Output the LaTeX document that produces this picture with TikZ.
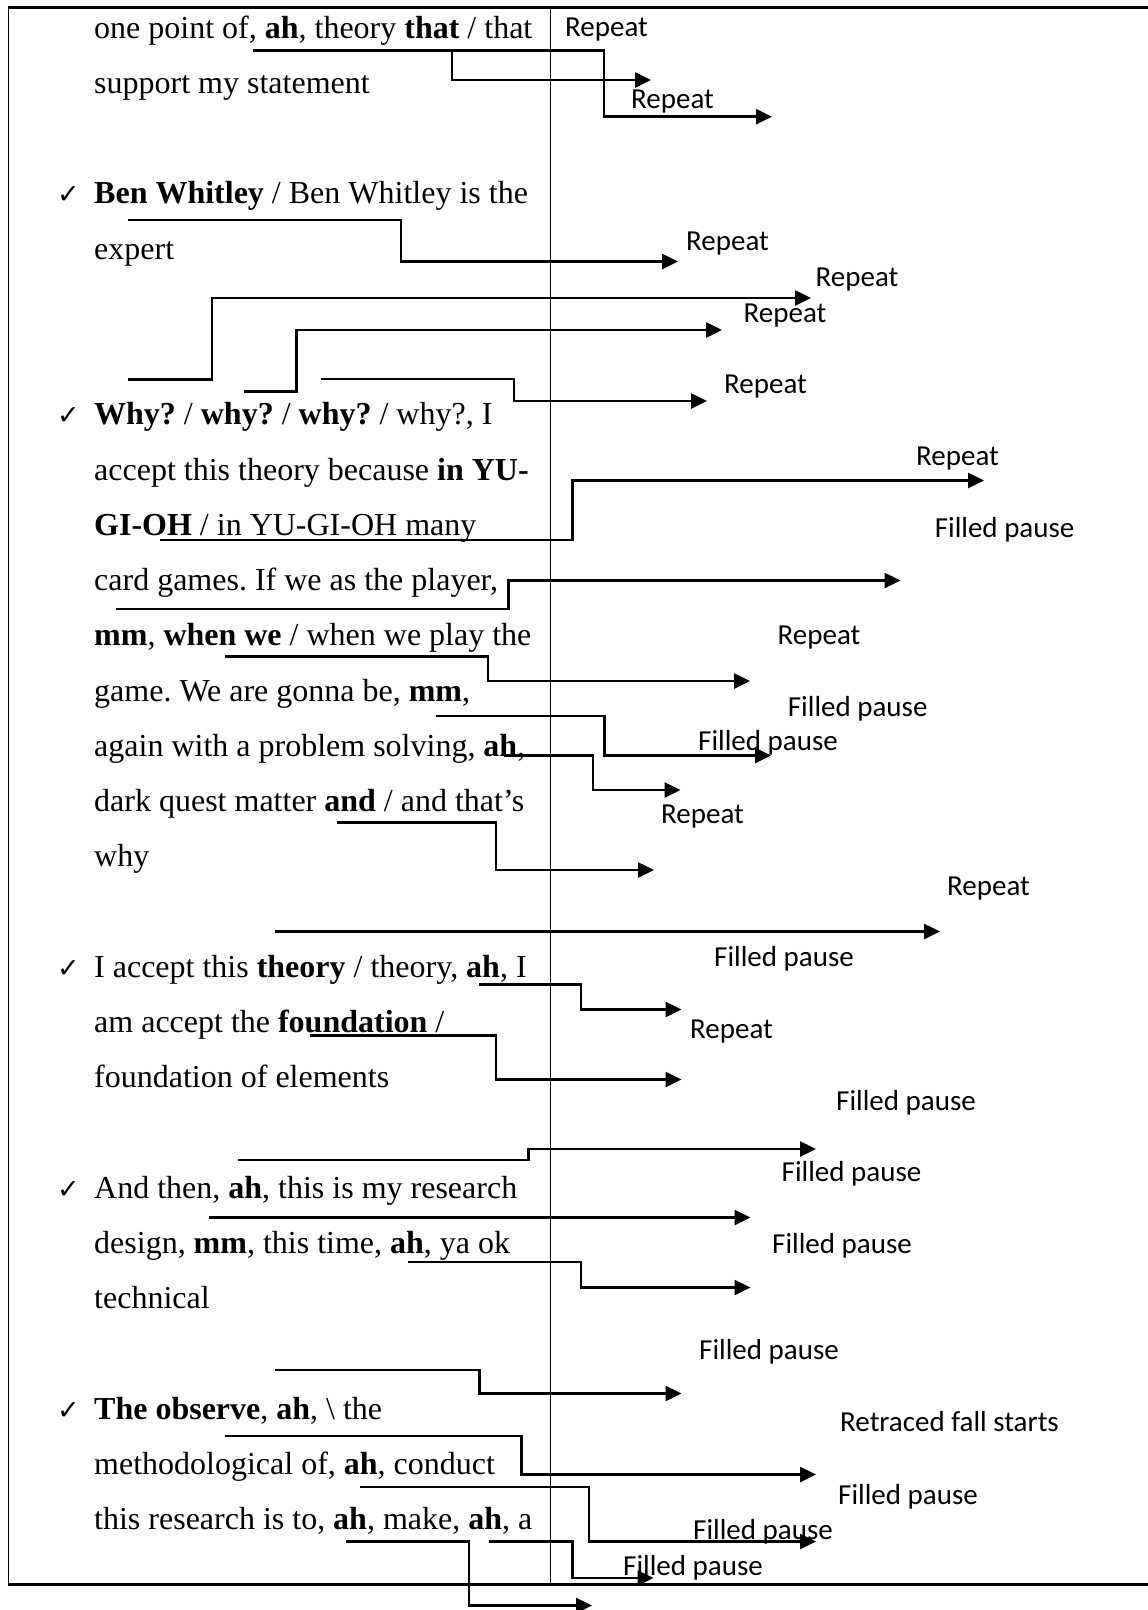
\documentclass[tikz,border=0pt]{standalone}
\usepackage{fontspec}
\setmainfont{Liberation Serif}
\newfontfamily\labelfont{Carlito}
\newfontfamily\tickfont{DejaVu Sans}
\usetikzlibrary{arrows.meta}
\frenchspacing

\begin{document}
\begin{tikzpicture}[x=1pt,y=-1pt,
  body/.style={anchor=base west, inner sep=0pt, font=\fontsize{32}{38}\selectfont},
  tick/.style={anchor=base west, inner sep=0pt, font=\tickfont\fontsize{27}{30}\selectfont},
  tag/.style={anchor=base west, inner sep=0pt, font=\labelfont\fontsize{29}{34}\selectfont},
  conn/.style={line width=2.6pt, line join=miter, -{Triangle[length=16pt,width=15pt]}},
  rule/.style={line width=1.5pt},
  frame/.style={line width=3pt}]
\useasboundingbox (0,0) rectangle (1148,1610);
\fill[white] (0,0) rectangle (1148,1610);

% table frame and column divider
\draw[frame] (8,7) -- (1148,7);
\draw[frame] (8,1584) -- (1148,1584);
\draw[rule] (8.5,7) -- (8.5,1584);
\draw[rule] (550.5,7) -- (550.5,1584);

% transcript text (left column)
\node[body] (t0)  at (94,38)      {one point of, \textbf{ah}, theory \textbf{that} / that};
\node[body] (t1)  at (94,93.25)   {support my statement};
\node[tick] (c3)  at (57,203.75)  {✓};
\node[body] (t3)  at (94,203.75)  {\textbf{Ben Whitley} / Ben Whitley is the};
\node[body] (t4)  at (94,259)     {expert};
\node[tick] (c7)  at (57,424.75)  {✓};
\node[body] (t7)  at (94,424.75)  {\textbf{Why?} / \textbf{why?} / \textbf{why?} / why?, I};
\node[body] (t8)  at (94,480)     {accept this theory because \textbf{in YU-}};
\node[body] (t9)  at (94,535.25)  {\textbf{GI-OH} / in YU-GI-OH many};
\node[body] (t10) at (94,590.5)   {card games. If we as the player,};
\node[body] (t11) at (94,645.75)  {\textbf{mm}, \textbf{when we} / when we play the};
\node[body] (t12) at (94,701)     {game. We are gonna be, \textbf{mm},};
\node[body] (t13) at (94,756.25)  {again with a problem solving, \textbf{ah},};
\node[body] (t14) at (94,811.5)   {dark quest matter \textbf{and} / and that’s};
\node[body] (t15) at (94,866.75)  {why};
\node[tick] (c17) at (57,977.25)  {✓};
\node[body] (t17) at (94,977.25)  {I accept this \textbf{theory} / theory, \textbf{ah}, I};
\node[body] (t18) at (94,1032.5)  {am accept the \textbf{foundation} /};
\node[body] (t19) at (94,1087.75) {foundation of elements};
\node[tick] (c21) at (57,1198.25) {✓};
\node[body] (t21) at (94,1198.25) {And then, \textbf{ah}, this is my research};
\node[body] (t22) at (94,1253.5)  {design, \textbf{mm}, this time, \textbf{ah}, ya ok};
\node[body] (t23) at (94,1308.75) {technical};
\node[tick] (c25) at (57,1419.25) {✓};
\node[body] (t25) at (94,1419.25) {\textbf{The observe}, \textbf{ah}, \textbackslash{} the};
\node[body] (t26) at (94,1474.5)  {methodological of, \textbf{ah}, conduct};
\node[body] (t27) at (94,1529.75) {this research is to, \textbf{ah}, make, \textbf{ah}, a};

% disfluency labels (right column)
\node[tag] (r1)  at (565,36)     {Repeat};
\node[tag] (r2)  at (631,108)    {Repeat};
\node[tag] (r3)  at (686,250)    {Repeat};
\node[tag] (r4)  at (815.5,286)  {Repeat};
\node[tag] (r5)  at (743.5,322)  {Repeat};
\node[tag] (r6)  at (724,393)    {Repeat};
\node[tag] (r7)  at (916,465)    {Repeat};
\node[tag] (r8)  at (934.6,537)  {Filled pause};
\node[tag] (r9)  at (777.5,644)  {Repeat};
\node[tag] (r10) at (787.7,716)  {Filled pause};
\node[tag] (r11) at (698,750.5)  {Filled pause};
\node[tag] (r12) at (661,823)    {Repeat};
\node[tag] (r13) at (947,895)    {Repeat};
\node[tag] (r14) at (714,966)    {Filled pause};
\node[tag] (r15) at (690,1038)   {Repeat};
\node[tag] (r16) at (836,1110)   {Filled pause};
\node[tag] (r17) at (781.5,1181) {Filled pause};
\node[tag] (r18) at (772,1253)   {Filled pause};
\node[tag] (r19) at (699,1359.5) {Filled pause};
\node[tag] (r20) at (840,1431)   {Retraced fall starts};
\node[tag] (r21) at (838,1504)   {Filled pause};
\node[tag] (r22) at (693,1539)   {Filled pause};
\node[tag] (r23) at (623,1575)   {Filled pause};

% elbow connectors: start / knee x / end y / tip x
\foreach \n/\sx/\sy/\kx/\ey/\ex in {
  1/252.6/50.7/604/116.7/772,
  2/436/50.7/452/80/651,
  3/128/220/401/261.5/678,
  4/128/379.5/212/298/811,
  5/244/391.5/296.5/330/722,
  6/320.5/379/514/401/707,
  7/159.5/540/572.5/480.5/984,
  8/116/609/508.5/580.5/900.5,
  9/224.5/656.5/488/681/750,
  10/435.5/716/604.5/755.5/771,
  11/503.5/755.5/593/790/680.5,
  12/336.5/822.5/496/870/654,
  13/275/931.5/600/931.5/940,
  14/479/984.5/581/1009.5/681.5,
  15/309.5/1035.5/496/1079.5/681.5,
  16/238/1160/528.5/1149/816,
  17/208.5/1217.5/500/1217.5/750.5,
  18/407.7/1262/581/1287.5/750.5,
  19/275/1370/479.5/1393.5/681.5,
  20/224.5/1436/521.5/1474.5/816,
  21/360/1487/589/1541.5/816,
  22/489/1541.5/572.5/1578/653.5,
  23/346/1541.5/469/1605.5/592}{
  \coordinate (s\n) at (\sx,\sy);
  \coordinate (k\n) at (\kx,\ey);
  \coordinate (e\n) at (\ex,\ey);
  \draw[conn] (s\n) -| (k\n) -- (e\n);
}
\end{tikzpicture}
\end{document}
